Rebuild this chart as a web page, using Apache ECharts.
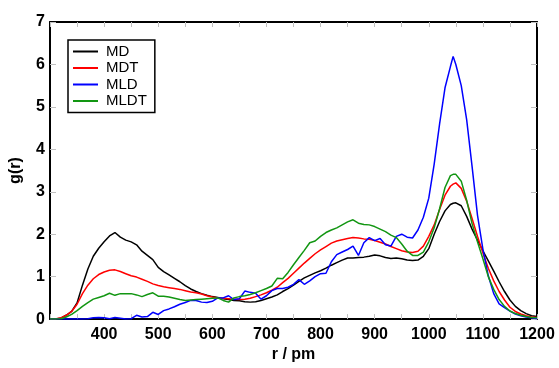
<!DOCTYPE html>
<html>
<head>
<meta charset="utf-8">
<script src="https://cdn.jsdelivr.net/npm/echarts@6/dist/echarts.min.js"></script>
<style>
  html, body { margin: 0; padding: 0; background: #fff; }
  #chart { width: 559px; height: 368px; }
</style>
</head>
<body>
<div id="chart"></div>
<script>
// r / pm sample positions
const r = [
  300, 310, 320, 330, 340, 350, 360, 370, 380, 390,
  400, 410, 420, 430, 440, 450, 460, 470, 480, 490,
  500, 510, 520, 530, 540, 550, 560, 570, 580, 590,
  600, 610, 620, 630, 640, 650, 660, 670, 680, 690,
  700, 710, 720, 730, 740, 750, 760, 770, 780, 790,
  800, 810, 820, 830, 840, 850, 860, 870, 880, 890,
  900, 910, 920, 930, 940, 950, 960, 970, 980, 990,
  1000, 1010, 1020, 1030, 1040, 1045,
  1050, 1060, 1070, 1080, 1090, 1100, 1110, 1120, 1130, 1140,
  1150, 1160, 1170, 1180, 1190, 1200
];

const md = [
  0, 0, 0.02, 0.09, 0.18, 0.38, 0.8, 1.18, 1.48, 1.67,
  1.82, 1.96, 2.04, 1.93, 1.86, 1.82, 1.75, 1.6, 1.5, 1.4,
  1.22, 1.12, 1.04, 0.96, 0.88, 0.79, 0.71, 0.65, 0.6, 0.56,
  0.53, 0.51, 0.48, 0.46, 0.44, 0.43, 0.41, 0.4, 0.41, 0.44,
  0.48, 0.52, 0.57, 0.65, 0.72, 0.8, 0.89, 0.97, 1.03, 1.09,
  1.14, 1.2, 1.27, 1.33, 1.39, 1.44, 1.44, 1.45, 1.46, 1.48,
  1.51, 1.49, 1.45, 1.43, 1.44, 1.42, 1.39, 1.38, 1.39, 1.48,
  1.66, 2.0, 2.3, 2.55, 2.7, 2.73,
  2.74, 2.67, 2.42, 2.12, 1.86, 1.61, 1.37, 1.13, 0.88, 0.65,
  0.45, 0.3, 0.2, 0.13, 0.08, 0.06
];

const mdt = [
  0, 0, 0.03, 0.09, 0.18, 0.35, 0.6, 0.8, 0.95, 1.05,
  1.11, 1.15, 1.16, 1.12, 1.07, 1.02, 0.99, 0.94, 0.89, 0.83,
  0.79, 0.76, 0.74, 0.72, 0.7, 0.67, 0.64, 0.62, 0.59, 0.55,
  0.52, 0.5, 0.49, 0.48, 0.47, 0.46, 0.47, 0.49, 0.53, 0.57,
  0.62, 0.68, 0.75, 0.86, 0.96, 1.08, 1.2, 1.32, 1.43, 1.54,
  1.63, 1.71, 1.79, 1.84, 1.87, 1.9, 1.92, 1.91, 1.89, 1.88,
  1.85, 1.81, 1.77, 1.71, 1.66, 1.61, 1.58, 1.57, 1.6, 1.72,
  1.95, 2.22, 2.58, 2.92, 3.13, 3.18,
  3.21, 3.08, 2.78, 2.37, 1.95, 1.56, 1.2, 0.9, 0.65, 0.45,
  0.28, 0.18, 0.12, 0.08, 0.05, 0.04
];

const mld = [
  0, 0, 0, 0, 0, 0, 0, 0.01, 0.03, 0.04,
  0.03, 0.01, 0.04, 0.02, 0, 0.01, 0.09, 0.05, 0.06, 0.16,
  0.11, 0.2, 0.24, 0.29, 0.35, 0.39, 0.44, 0.44, 0.4, 0.39,
  0.42, 0.5, 0.5, 0.55, 0.46, 0.48, 0.66, 0.63, 0.61, 0.47,
  0.55, 0.67, 0.72, 0.72, 0.75, 0.82, 0.93, 0.82, 0.9, 1.0,
  1.07, 1.08, 1.35, 1.52, 1.58, 1.64, 1.72, 1.5, 1.8, 1.92,
  1.85, 1.9, 1.75, 1.72, 1.95, 2.0, 1.93, 1.91, 2.1, 2.4,
  2.85, 3.65, 4.6, 5.45, 5.95, 6.19,
  6.0, 5.5, 4.7, 3.6, 2.45, 1.65, 1.02, 0.6, 0.36, 0.27,
  0.19, 0.12, 0.08, 0.05, 0.03, 0.01
];

const mldt = [
  0, 0, 0.01, 0.05, 0.11, 0.2, 0.3, 0.39, 0.47, 0.51,
  0.55, 0.61, 0.56, 0.6, 0.6, 0.6, 0.57, 0.53, 0.58, 0.62,
  0.54, 0.54, 0.52, 0.49, 0.46, 0.44, 0.45, 0.46, 0.47, 0.48,
  0.49, 0.5, 0.44, 0.4, 0.5, 0.53, 0.55, 0.58, 0.62, 0.67,
  0.72, 0.78, 0.96, 0.95, 1.1, 1.28, 1.45, 1.62, 1.8, 1.84,
  1.95, 2.04, 2.1, 2.15, 2.22, 2.29, 2.34, 2.26, 2.23, 2.22,
  2.18, 2.12, 2.06, 1.98, 1.92, 1.77, 1.6, 1.5, 1.5, 1.58,
  1.82, 2.15, 2.6, 3.1, 3.38, 3.41,
  3.41, 3.25, 2.8, 2.25, 1.82, 1.42, 1.0, 0.7, 0.46, 0.3,
  0.19, 0.13, 0.09, 0.06, 0.04, 0.03
];

const seriesNames = ['MD', 'MDT', 'MLD', 'MLDT'];
const seriesValues = [md, mdt, mld, mldt];
const seriesColors = ['#000000', '#ff0000', '#0000ff', '#129612'];

const font = '"Liberation Sans", Arial, Helvetica, sans-serif';
const tickColor = '#c0c0c0';

const chart = echarts.init(document.getElementById('chart'), null, { renderer: 'canvas' });

const frameAxis = (extra) => Object.assign({
  type: 'value',
  axisLine: { show: true, onZero: false, lineStyle: { color: '#000', width: 2 } },
  axisTick: { show: true, inside: true, length: 5, lineStyle: { color: tickColor, width: 1 } },
  splitLine: { show: false },
}, extra);

const option = {
  animation: false,
  textStyle: { fontFamily: font },
  grid: { left: 49, right: 22, top: 22, bottom: 34, containLabel: false },
  legend: {
    orient: 'vertical',
    left: 68,
    top: 40,
    padding: [4, 8, 4, 4],
    itemWidth: 25,
    itemHeight: 14,
    itemGap: 1.5,
    borderColor: '#000',
    borderWidth: 1.5,
    backgroundColor: '#fff',
    itemStyle: { opacity: 0 },
    textStyle: { fontFamily: font, fontSize: 15, color: '#000', padding: [0, 0, 0, 3] },
    data: seriesNames,
  },
  xAxis: [
    frameAxis({
      position: 'bottom',
      min: 300, max: 1200, interval: 100,
      minorTick: { show: true, splitNumber: 2, length: 5, lineStyle: { color: tickColor, width: 1 } },
      axisLabel: {
        showMinLabel: false, color: '#000', fontWeight: 'bold', fontSize: 16, margin: 7, fontFamily: font,
        formatter: (v) => String(v),
      },
      name: 'r / pm',
      nameLocation: 'middle',
      nameGap: 17,
      nameTextStyle: { color: '#000', fontWeight: 'bold', fontSize: 16, fontFamily: font },
    }),
    frameAxis({
      position: 'top',
      min: 300, max: 1200, interval: 100,
      minorTick: { show: true, splitNumber: 2, length: 5, lineStyle: { color: tickColor, width: 1 } },
      axisLabel: { show: false },
    }),
  ],
  yAxis: [
    frameAxis({
      position: 'left',
      min: 0, max: 7, interval: 1,
      axisTick: { show: true, inside: true, length: 6, lineStyle: { color: tickColor, width: 1 } },
      axisLabel: { color: '#000', fontWeight: 'bold', fontSize: 16, margin: 5, fontFamily: font },
      name: 'g(r)',
      nameLocation: 'middle',
      nameGap: 26,
      nameTextStyle: { color: '#000', fontWeight: 'bold', fontSize: 16, fontFamily: font },
    }),
    frameAxis({
      position: 'right',
      min: 0, max: 7, interval: 1,
      axisTick: { show: true, inside: true, length: 6, lineStyle: { color: tickColor, width: 1 } },
      axisLabel: { show: false },
    }),
  ],
  series: seriesNames.map((name, k) => ({
    name,
    type: 'line',
    xAxisIndex: 0,
    yAxisIndex: 0,
    symbol: 'none',
    smooth: false,
    color: seriesColors[k],
    lineStyle: { color: seriesColors[k], width: 1.5 },
    data: r.map((x, i) => [x, seriesValues[k][i]]),
  })),
};

chart.setOption(option);
</script>
</body>
</html>
